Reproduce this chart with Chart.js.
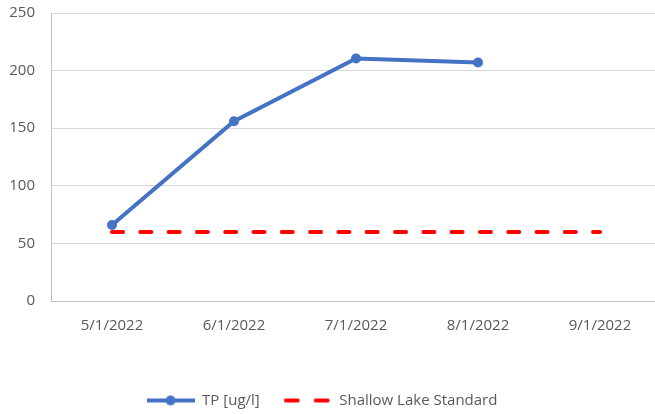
<!DOCTYPE html>
<html>
<head>
<meta charset="utf-8">
<script src="https://cdn.jsdelivr.net/npm/chart.js@4"></script>
<style>
  html, body { margin: 0; padding: 0; background: #fff; overflow: hidden; }
  #wrap { width: 666px; height: 420px; }
</style>
</head>
<body>
<div id="wrap"><canvas id="myChart"></canvas></div>
<script>
const dates = ["5/1/2022", "6/1/2022", "7/1/2022", "8/1/2022", "9/1/2022"];
const tpValues = [66, 156, 210.5, 207, null];
const standardValues = [60, 60, 60, 60, 60];
const yTicks = [0, 50, 100, 150, 200, 250];

const textColor = "#595959";
const fontFamily = "'Open Sans', sans-serif";

// little legend icons like excel
function makeIcon(kind) {
  const c = document.createElement("canvas");
  c.width = 48;
  c.height = 12;
  const g = c.getContext("2d");
  g.lineWidth = 4;
  if (kind === "tp") {
    g.strokeStyle = "#4472C4";
    g.beginPath();
    g.moveTo(0, 6);
    g.lineTo(48, 6);
    g.stroke();
    g.fillStyle = "#4472C4";
    g.beginPath();
    g.arc(24, 6, 5, 0, Math.PI * 2);
    g.fill();
  } else {
    g.strokeStyle = "#FF0000";
    g.lineCap = "round";
    g.beginPath();
    g.moveTo(2, 6);
    g.lineTo(14, 6);
    g.moveTo(32, 6);
    g.lineTo(44, 6);
    g.stroke();
  }
  return c;
}
const icons = [makeIcon("tp"), makeIcon("std")];

// excel legend sits a bit left of the middle
const legendShift = {
  id: "legendShift",
  afterLayout: (chart) => {
    chart.legend.left -= 11;
    chart.legend.right -= 11;
  },
};

const myChart = document.getElementById("myChart");

let lineChart = new Chart(myChart, {
  type: "line",
  data: {
    labels: dates,
    datasets: [
      {
        label: "TP [ug/l]",
        data: tpValues,
        borderColor: "#4472C4",
        backgroundColor: "#4472C4",
        borderWidth: 4,
        pointRadius: 5,
        pointHoverRadius: 5,
        pointBorderWidth: 0,
        spanGaps: false,
      },
      {
        label: "Shallow Lake Standard",
        data: standardValues,
        borderColor: "#FF0000",
        backgroundColor: "#FF0000",
        borderWidth: 4,
        borderDash: [11, 17.3],
        borderCapStyle: "round",
        pointRadius: 0,
        pointHoverRadius: 0,
      },
    ],
  },
  plugins: [legendShift],
  options: {
    responsive: true,
    maintainAspectRatio: false,
    animation: false,
    layout: {
      padding: { top: 13, right: 0, bottom: 2, left: 0 },
    },
    scales: {
      x: {
        offset: true,
        grid: { display: false, drawTicks: false },
        border: { color: "#BFBFBF", width: 1 },
        ticks: {
          color: textColor,
          font: { family: fontFamily, size: 15 },
          padding: 16,
          maxRotation: 0,
        },
        afterFit: (scale) => {
          scale.height = 68;
          scale.paddingLeft = 0;
          scale.paddingRight = 0;
        },
      },
      y: {
        min: 0,
        max: 250,
        afterBuildTicks: (scale) => {
          scale.ticks = yTicks.map((v) => ({ value: v }));
        },
        grid: { color: "#D9D9D9", drawTicks: false },
        border: { color: "#BFBFBF", width: 1 },
        ticks: {
          color: textColor,
          font: { family: fontFamily, size: 15 },
          padding: 16,
        },
        afterFit: (scale) => {
          scale.width = 51;
          scale.paddingTop = 0;
          scale.paddingBottom = 0;
        },
      },
    },
    plugins: {
      tooltip: { enabled: false },
      legend: {
        position: "bottom",
        labels: {
          color: textColor,
          font: { family: fontFamily, size: 15 },
          usePointStyle: true,
          pointStyleWidth: 48,
          padding: 24,
          generateLabels: (chart) => {
            const items = Chart.defaults.plugins.legend.labels.generateLabels(chart);
            items.forEach((item, i) => {
              item.pointStyle = icons[i];
            });
            return items;
          },
        },
      },
    },
  },
});
</script>
</body>
</html>
